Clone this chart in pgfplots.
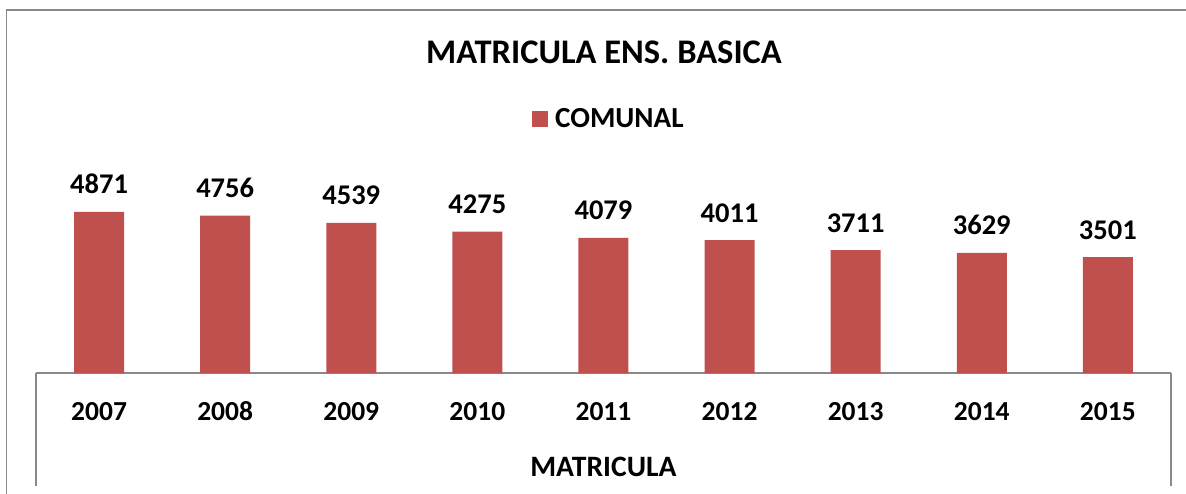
\documentclass[border=0pt]{standalone}
\usepackage{pgfplots}
\pgfplotsset{compat=1.18}
\usepackage{fontspec}
\setmainfont{Carlito}
\definecolor{barred}{RGB}{192,80,77}
\definecolor{framegray}{RGB}{137,137,137}
\begin{document}
\begin{tikzpicture}[x=1pt,y=1pt]
\useasboundingbox (0,0) rectangle (1186,493);
\draw[framegray, line width=1.8pt] (6.5,-1) -- (6.5,482.7) -- (1187,482.7);
\draw[framegray, line width=1.2pt] (36,120) -- (36,7);
\draw[framegray, line width=1.2pt] (1171,120) -- (1171,7);
\node[anchor=base, font=\fontsize{34.5}{40}\selectfont\bfseries] at (604,429.7) {MATRICULA ENS. BASICA};
\begin{axis}[
  at={(36pt,120pt)}, anchor=south west,
  scale only axis, width=1135pt, height=198.6pt,
  xmin=-0.5, xmax=8.5, ymin=0, ymax=6000,
  axis x line*=bottom, axis y line=none,
  x axis line style={-, draw=framegray, line width=1.2pt},
  ybar, bar width=50pt,
  xtick=data,
  xticklabels={2007,2008,2009,2010,2011,2012,2013,2014,2015},
  major tick length=0pt,
  ytick=\empty,
  xticklabel style={anchor=base, yshift=-47pt, inner sep=0pt, font=\fontsize{27.5}{33}\selectfont\bfseries},
  xlabel={MATRICULA},
  xlabel style={at={(axis description cs:0.5,0)}, anchor=base, yshift=-103.7pt, inner sep=0pt, font=\fontsize{29.6}{36}\selectfont\bfseries},
  /pgf/number format/1000 sep={},
  /pgf/number format/assume math mode=true,
  nodes near coords,
  every node near coord/.append style={anchor=base, yshift=18pt, inner sep=0pt, font=\fontsize{28.5}{34}\selectfont\bfseries, text=black},
  clip=false,
  legend style={at={(0.5048,1.2814)}, anchor=center, draw=none, fill=none,
    font=\fontsize{29.1}{34}\selectfont\bfseries},
  legend image code/.code={\fill[barred] (0pt,-8pt) rectangle (16pt,8pt);},
]
\addplot[fill=barred, draw=none] coordinates {(0,4871) (1,4756) (2,4539) (3,4275) (4,4079) (5,4011) (6,3711) (7,3629) (8,3501)};
\addlegendentry{\hspace{5pt}COMUNAL}
\end{axis}
\end{tikzpicture}
\end{document}
